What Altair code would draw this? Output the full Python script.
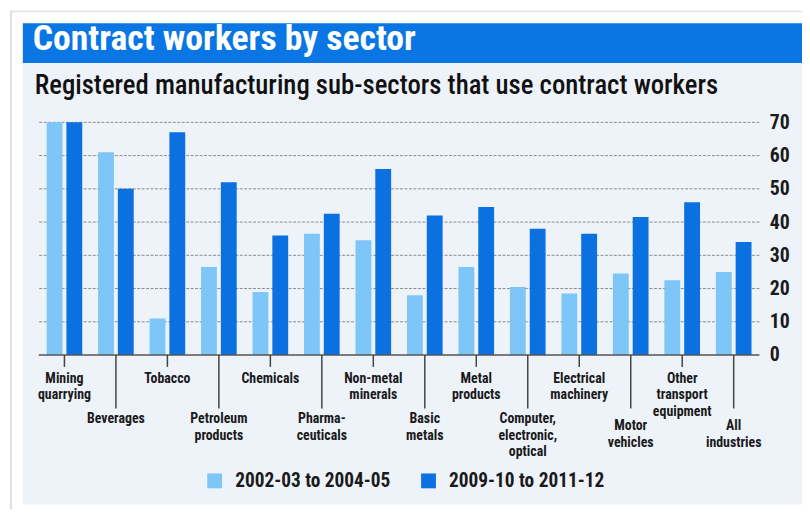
import altair as alt
import pandas as pd

# ---- data ----
categories = ["Mining quarrying", "Beverages", "Tobacco", "Petroleum products", "Chemicals",
              "Pharmaceuticals", "Non-metal minerals", "Basic metals", "Metal products",
              "Computer, electronic, optical", "Electrical machinery", "Motor vehicles",
              "Other transport equipment", "All industries"]
label_text = ["Mining\nquarrying", "Beverages", "Tobacco", "Petroleum\nproducts", "Chemicals",
              "Pharma-\nceuticals", "Non-metal\nminerals", "Basic\nmetals", "Metal\nproducts",
              "Computer,\nelectronic,\noptical", "Electrical\nmachinery", "Motor\nvehicles",
              "Other\ntransport\nequipment", "All\nindustries"]
label_row = ["top", "bottom", "top", "bottom", "top", "bottom", "top", "bottom", "top",
             "bottom", "top", "bottom2", "top", "bottom2"]
series_names = ["2002-03 to 2004-05", "2009-10 to 2011-12"]
early = [70, 61, 11, 26.5, 19, 36.5, 34.5, 18, 26.5, 20.5, 18.5, 24.5, 22.5, 25]
late = [70, 50, 67, 52, 36, 42.5, 56, 42, 44.5, 38, 36.5, 41.5, 46, 34]
y_ticks = [0, 10, 20, 30, 40, 50, 60, 70]

title_text = "Contract workers by sector"
subtitle_text = "Registered manufacturing sub-sectors that use contract workers"

# ---- styles ----
FONT = "'Noto Sans Condensed', 'Roboto Condensed', 'Liberation Sans Narrow', Roboto, sans-serif"
LIGHT = "#7ec6f7"
DARK = "#0b71e1"
BLUE = "#0a76e4"
PANEL = "#eef3fa"
INK = "#1a1a1a"

bars_df = pd.DataFrame({
    "cat": categories * 2,
    "series": [series_names[0]] * len(categories) + [series_names[1]] * len(categories),
    "value": early + late,
})
labels_df = pd.DataFrame({"cat": categories, "label": label_text, "row": label_row})
grid_df = pd.DataFrame({"v": y_ticks})
one = alt.Data(values=[{"a": 1}])

xscale = alt.Scale(paddingInner=0, paddingOuter=0)
yscale = alt.Scale(domain=[0, 70], nice=False)
yaxis = alt.Axis(orient="right", values=y_ticks, grid=False, ticks=False, domain=False,
                 labelPadding=10, labelAlign="left", labelBaseline="middle",
                 labelFontSize=20, labelFontWeight="bold", labelFont=FONT,
                 labelColor=INK, title=None, zindex=1)
X = alt.X("cat:N", sort=categories, scale=xscale, axis=None)

panel = alt.Chart(one).mark_rect(color=PANEL).encode(
    x=alt.value(-16), x2=alt.value(771), y=alt.value(-60), y2=alt.value(386))
titlebar = alt.Chart(one).mark_rect(color=BLUE).encode(
    x=alt.value(-16), x2=alt.value(771), y=alt.value(-100), y2=alt.value(-60))
border_l = alt.Chart(one).mark_rule(color="#d6d6d6", strokeWidth=1.5).encode(
    x=alt.value(-28), y=alt.value(-113), y2=alt.value(396))
border_t = alt.Chart(one).mark_rule(color="#e2e2e2", strokeWidth=1.5).encode(
    x=alt.value(-28), x2=alt.value(771), y=alt.value(-112))
title = alt.Chart(one).mark_text(text=title_text, align="left", baseline="alphabetic",
                                 font=FONT, fontSize=36, fontWeight="bold", color="white").encode(
    x=alt.value(-6), y=alt.value(-73))
subtitle = alt.Chart(one).mark_text(text=subtitle_text, align="left", baseline="alphabetic",
                                    font=FONT, fontSize=27, fontWeight=500, color="#111111").encode(
    x=alt.value(-4), y=alt.value(-29))

grid = alt.Chart(grid_df).transform_filter("datum.v > 0").mark_rule(
    color="#8a8a8a", strokeWidth=1, strokeDash=[3, 1.5]).encode(
    y=alt.Y("v:Q", scale=yscale, axis=yaxis))
baseline = alt.Chart(grid_df).transform_filter("datum.v == 0").mark_rule(
    color="#555555", strokeWidth=1.6).encode(
    y=alt.Y("v:Q", scale=yscale, axis=yaxis))

bars = alt.Chart(bars_df).mark_bar().encode(
    x=X,
    xOffset=alt.XOffset("series:N", sort=series_names,
                        scale=alt.Scale(paddingInner=0.2, paddingOuter=0.4)),
    y=alt.Y("value:Q", scale=yscale, axis=yaxis),
    color=alt.Color("series:N", sort=series_names,
                    scale=alt.Scale(domain=series_names, range=[LIGHT, DARK]),
                    legend=alt.Legend(orient="none", legendX=168, legendY=352,
                                      direction="horizontal", title=None,
                                      symbolType="square", symbolSize=225,
                                      symbolStrokeWidth=0, labelFont=FONT,
                                      labelFontSize=19.5, labelFontWeight="bold",
                                      labelColor=INK, labelOffset=11,
                                      columnPadding=28, labelLimit=400, padding=0)),
)

tick_top = alt.Chart(labels_df).transform_filter("datum.row == 'top'").mark_rule(
    color="#444444", strokeWidth=1.5).encode(x=X, y=alt.value(235), y2=alt.value(247))
tick_bot = alt.Chart(labels_df).transform_filter("datum.row != 'top'").mark_rule(
    color="#444444", strokeWidth=1.5).encode(x=X, y=alt.value(235), y2=alt.value(289))

def label_layer(row, ypix):
    return alt.Chart(labels_df).transform_filter(f"datum.row == '{row}'").mark_text(
        align="center", baseline="alphabetic", lineBreak="\n", lineHeight=16.6,
        font=FONT, fontSize=14, fontWeight="bold", color=INK).encode(
        x=X, y=alt.value(ypix), text="label:N")

chart = alt.layer(
    panel, titlebar, border_l, border_t, title, subtitle,
    grid, bars, baseline, tick_top, tick_bot,
    label_layer("top", 263), label_layer("bottom", 304), label_layer("bottom2", 311),
).properties(
    width=728, height=235,
    autosize=alt.AutoSizeParams(type="none"),
    padding={"left": 31, "top": 113, "right": 43, "bottom": 153},
    background="white",
).configure_view(stroke=None)

chart.save("out.html", embed_options={"renderer": "svg", "actions": False})
